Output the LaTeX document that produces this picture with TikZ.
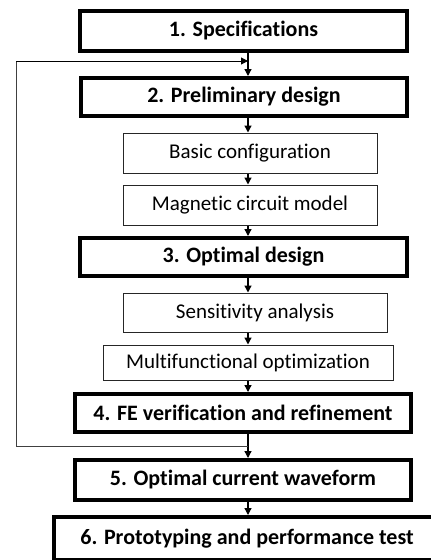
\documentclass[tikz,border=0pt]{standalone}
\usepackage{fontspec}
\setmainfont{Carlito}[Ligatures={NoCommon}]
\usetikzlibrary{arrows.meta}
\begin{document}
\begin{tikzpicture}[x=1pt,y=-1pt,
  thickbox/.style={draw=black,line width=4pt,fill=white,inner sep=0pt,font=\fontsize{22}{25}\selectfont\bfseries},
  thinbox/.style={draw=black!85,line width=1pt,fill=white,inner sep=0pt,font=\fontsize{21}{24}\selectfont},
  flow/.style={draw=black,line width=1.3pt,-{Triangle[length=7pt,width=7pt]}},
  fb/.style={draw=black!75,line width=1pt}]
\useasboundingbox (0,0) rectangle (431,560);
\clip (0,0) rectangle (431,560);
\fill[white] (0,0) rectangle (431,560);
\coordinate (ax) at (248,0);
\node[thickbox,minimum width=327pt,minimum height=40pt] (b1) at (243.5,31) {1. Specifications};
\node[thickbox,minimum width=326pt,minimum height=38pt] (b2) at (244,97) {2. Preliminary design};
\node[thinbox,minimum width=254pt,minimum height=40pt] (s1) at (250,153) {Basic configuration};
\node[thinbox,minimum width=254pt,minimum height=40pt] (s2) at (250,205) {Magnetic circuit model};
\node[thickbox,minimum width=327pt,minimum height=38pt] (b3) at (243.5,257) {3. Optimal design};
\node[thinbox,minimum width=264pt,minimum height=39pt] (s3) at (255,312.5) {Sensitivity analysis};
\node[thinbox,minimum width=290pt,minimum height=35pt] (s4) at (248,362.5) {Multifunctional optimization};
\node[thickbox,minimum width=336pt,minimum height=38pt] (b4) at (243,413) {4. FE verification and refinement};
\node[thickbox,minimum width=336pt,minimum height=40pt] (b5) at (243,480) {5. Optimal current waveform};
\node[thickbox,minimum width=386pt,minimum height=43pt] (b6) at (247,538.5) {6. Prototyping and performance test};
\coordinate (fbtop) at (248,61);
\coordinate (fbbot) at (248,446);
\coordinate (fbl1) at (16,446);
\coordinate (fbl2) at (16,61);
\draw[flow] (b1.south -| ax) -- (b2.north -| ax);
\draw[flow] (b2.south -| ax) -- (s1.north -| ax);
\draw[flow] (s1.south -| ax) -- (s2.north -| ax);
\draw[flow] (s2.south -| ax) -- (b3.north -| ax);
\draw[flow] (b3.south -| ax) -- (s3.north -| ax);
\draw[flow] (s3.south -| ax) -- (s4.north -| ax);
\draw[flow] (s4.south -| ax) -- (b4.north -| ax);
\draw[flow] (b4.south -| ax) -- (b5.north -| ax);
\draw[flow] (b5.south -| ax) -- (b6.north -| ax);
\draw[fb] (fbbot) -- (fbl1) -- (fbl2) -- ([xshift=-7pt]fbtop);
\draw[flow,line width=1pt] (fbl2) -- (fbtop);
\end{tikzpicture}
\end{document}
